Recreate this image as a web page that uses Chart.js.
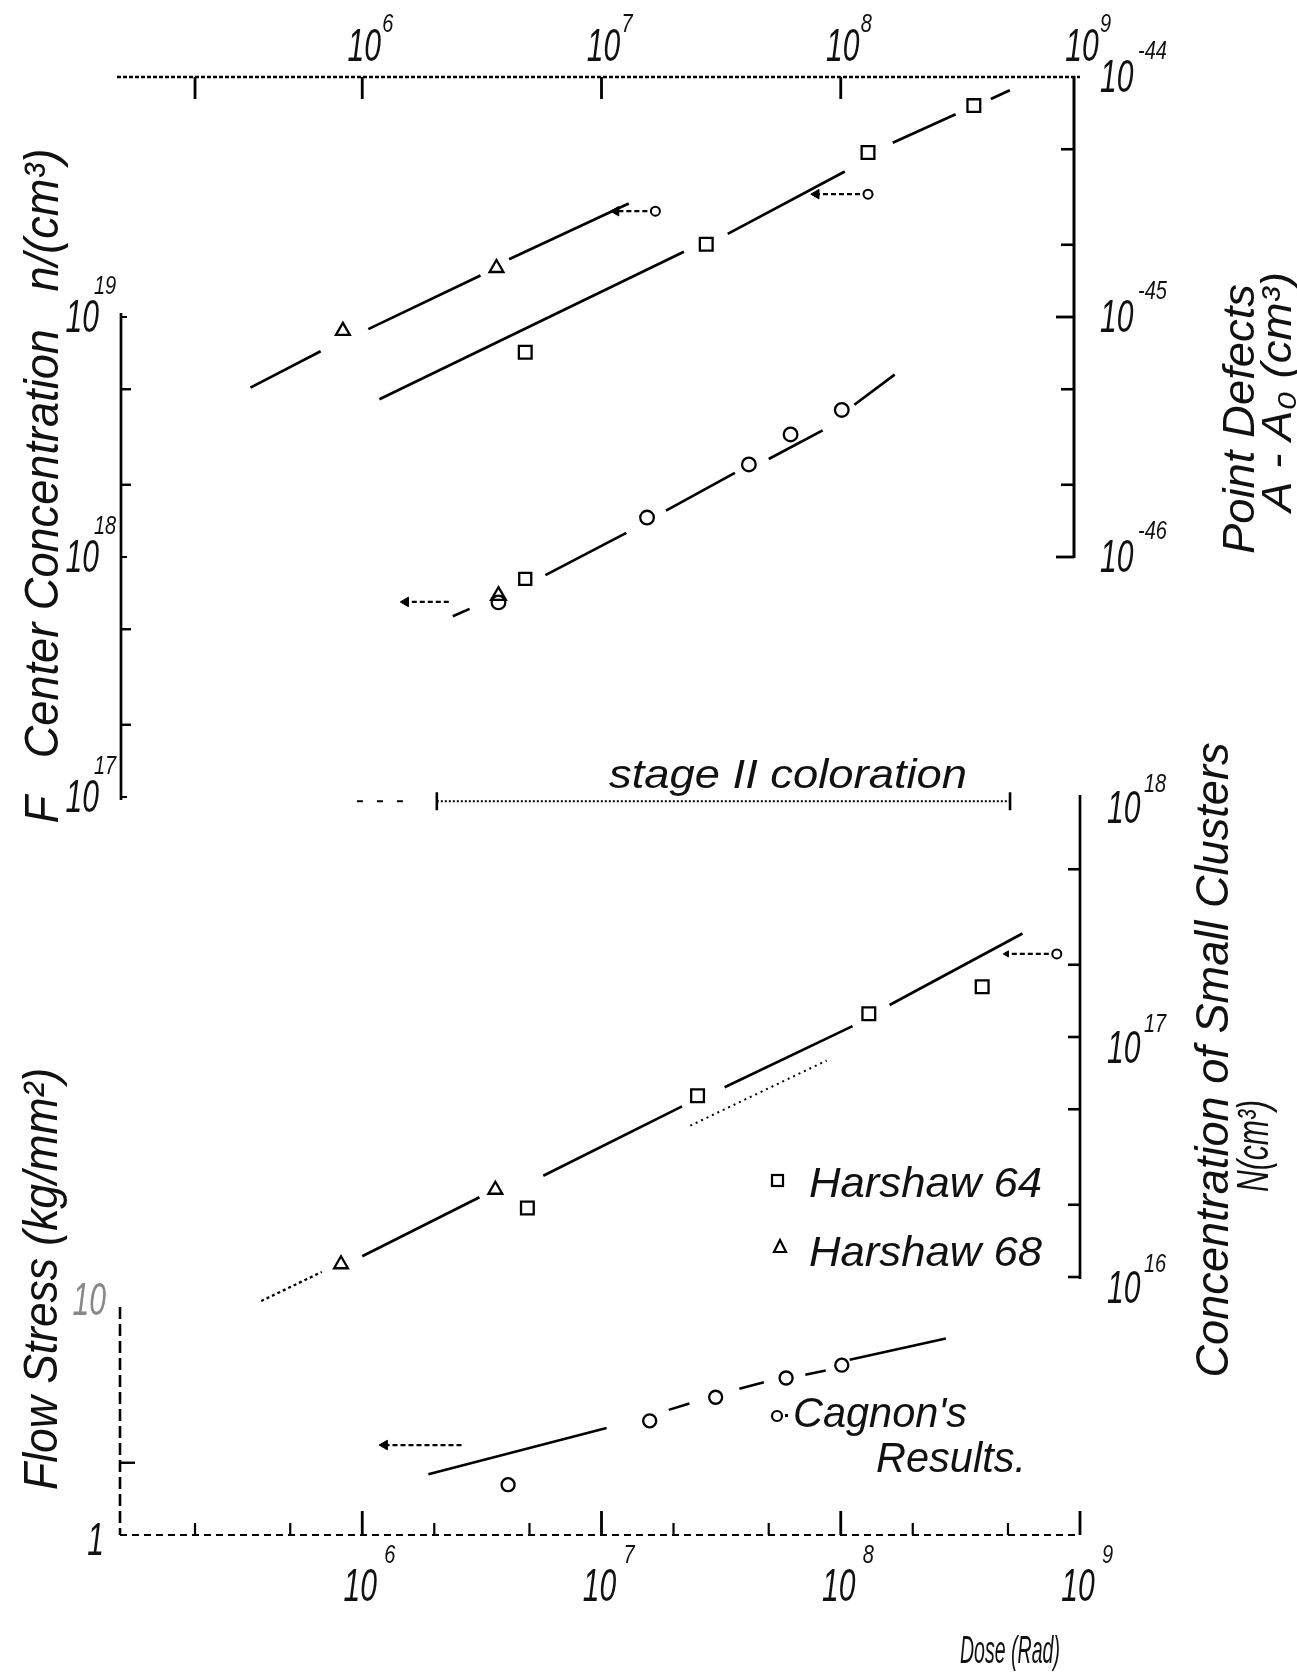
<!DOCTYPE html>
<html>
<head>
<meta charset="utf-8">
<script src="https://cdn.jsdelivr.net/npm/chart.js@4.4.1/dist/chart.umd.min.js"></script>
<style>
  html, body { margin: 0; padding: 0; background: #fff; }
  #wrap { width: 1297px; height: 1675px; position: relative; }
</style>
</head>
<body>
<div id="wrap"><canvas id="fig" width="1297" height="1675"></canvas></div>
<script>
// tick labels (powers of ten)
var doseDecades = [6, 7, 8, 9];
var topMinorTicks = [2e5];
var fCenterDecades = [17, 18, 19];
var pointDefectDecades = [-46, -45, -44];
var clusterDecades = [16, 17, 18];
var stressLabels = ['1', '10'];

// upper panel, F centre concentration n/(cm^3)
var h68TopDose = [8.3e5, 3.64e6];
var h68TopF = [8.75e18, 1.6e19];
var h68TopFitDose = [3.41e5, 6.7e5, null, 1.06e6, 3.12e6, null, 4.11e6, 1.30e7];
var h68TopFitF = [5.08e18, 7.2e18, null, 8.9e18, 1.49e19, null, 1.74e19, 2.97e19];

var h64TopDose = [4.8e6, 2.74e7, 1.30e8, 3.6e8];
var h64TopF = [7.13e18, 2.01e19, 4.85e19, 7.6e19];
var h64TopFitDose = [1.18e6, 2.21e7, null, 3.37e7, 1.04e8, null, 1.65e8, 3.02e8, null, 4.24e8, 5.09e8];
var h64TopFitF = [4.54e18, 1.87e19, null, 2.22e19, 4.04e19, null, 5.32e19, 7.0e19, null, 8.1e19, 8.8e19];

// upper panel, point defects A - A0 (cm^3)
var pdCircleDose = [3.71e6, 1.55e7, 4.13e7, 6.17e7, 1.01e8];
var pdCircle = [6.47e-47, 1.46e-46, 2.43e-46, 3.24e-46, 4.1e-46];
var pdSquareDose = [4.8e6];
var pdSquare = [8.1e-47];
var pdTriangleDose = [3.71e6];
var pdTriangle = [6.9e-47];
var pdFitDose = [2.39e6, 2.81e6, null, 5.83e6, 1.27e7, null, 1.86e7, 3.61e7, null, 5.0e7, 8.4e7, null, 1.14e8, 1.68e8];
var pdFit = [5.66e-47, 6.08e-47, null, 8.4e-47, 1.26e-46, null, 1.56e-46, 2.24e-46, null, 2.56e-46, 3.37e-46, null, 4.31e-46, 5.75e-46];

// lower panel, concentration of small clusters N(cm^3)
var h68LowDose = [8.15e5, 3.6e6];
var h68LowN = [1.13e16, 2.31e16];
var h64LowDose = [4.9e6, 2.52e7, 1.31e8, 3.9e8];
var h64LowN = [1.94e16, 5.69e16, 1.25e17, 1.62e17];
var clusterFitDose = [1e6, 3.09e6, null, 5.71e6, 2.17e7, null, 3.27e7, 1.12e8, null, 1.6e8, 5.75e8];
var clusterFitN = [1.22e16, 2.15e16, null, 2.64e16, 5.14e16, null, 6.18e16, 1.11e17, null, 1.36e17, 2.7e17];
var clusterStartDose = [3.78e5, 6.78e5];
var clusterStartN = [7.94e15, 1.05e16];
var clusterDotDose = [2.35e7, 8.73e7];
var clusterDotN = [4.27e16, 7.98e16];

// lower panel, Cagnon's results, flow stress (kg/mm^2)
var cagnonDose = [4.07e6, 1.59e7, 3.0e7, 5.91e7, 1.01e8];
var cagnonStress = [1.62, 2.99, 3.75, 4.51, 5.1];
var cagnonFitDose = [1.89e6, 1.05e7];
var cagnonFit = [1.79, 2.79];
var cagnonDashDose = [1.91e7, 2.33e7, null, 3.77e7, 4.77e7, null, 7.11e7, 8.65e7, null, 1.09e8, 2.75e8];
var cagnonDash = [3.32, 3.53, null, 4.07, 4.33, null, 4.65, 4.85, null, 5.37, 6.59];

// leader arrows pointing to the axis each curve belongs to
var arrowTail = [1.68e7, 1.30e8, 2.3e6, 8.0e8, 2.6e6];
var arrowHead = [1.15e7, 7.9e7, 1.52e6, 4.94e8, 1.24e6];
var arrowLevel = [2.76e19, 3.25e19, 6.5e17, 2.22e17, 2.37];
var arrowAxis = ['yF', 'yF', 'yF', 'yC', 'yS'];
var arrowTailCircle = [true, true, false, true, false];

// stage II coloration range
var stageIIDose = [2.05e6, 5.1e8];
var stageIILeadDose = [9.5e5, 1.67e6];
var stageIILevel = 9.6e16;

var BLACK = '#000';
var FONT = '"Liberation Sans", "DejaVu Sans", Arial, sans-serif';

function pts(xs, ys) {
  return xs.map(function(v, i) { return {x: v, y: ys[i]}; });
}

function markers(xs, ys, style, r, axis, fill) {
  return {
    data: pts(xs, ys), yAxisID: axis, showLine: false,
    pointStyle: style, pointRadius: r,
    pointBackgroundColor: fill || '#fff', pointBorderColor: BLACK, pointBorderWidth: 2.3,
    clip: false, order: 0
  };
}

function fitLine(xs, ys, axis, width, dash) {
  return {
    data: pts(xs, ys), yAxisID: axis, showLine: true, spanGaps: false,
    pointRadius: 0, borderColor: BLACK, borderWidth: width, borderDash: dash || [],
    clip: false, order: 2
  };
}

function arrowSet(i) {
  var lvl = arrowLevel[i];
  var ring = arrowTailCircle[i];
  return {
    data: [{x: arrowTail[i], y: lvl}, {x: arrowHead[i], y: lvl}],
    yAxisID: arrowAxis[i], showLine: true,
    borderColor: BLACK, borderWidth: 2.2, borderDash: [5, 3],
    pointStyle: ['circle', 'triangle'],
    pointRadius: [ring ? 4.5 : 0, i === 3 ? 3.5 : 5.5],
    pointRotation: arrowHead[i] > arrowTail[i] ? 90 : 270,
    pointBackgroundColor: ['#fff', BLACK], pointBorderColor: BLACK, pointBorderWidth: [2, 1],
    clip: false, order: 1
  };
}

var datasets = [
  markers(h64TopDose, h64TopF, 'rect', 9, 'yF'),
  markers(h68TopDose, h68TopF, 'triangle', 8, 'yF'),
  markers(pdTriangleDose, pdTriangle, 'triangle', 8.5, 'yP', 'rgba(0,0,0,0)'),
  markers(pdCircleDose, pdCircle, 'circle', 6.8, 'yP'),
  markers(pdSquareDose, pdSquare, 'rect', 8.5, 'yP'),
  markers(h68LowDose, h68LowN, 'triangle', 8, 'yC'),
  markers(h64LowDose, h64LowN, 'rect', 9, 'yC'),
  markers(cagnonDose, cagnonStress, 'circle', 6.5, 'yS'),
  fitLine(h68TopFitDose, h68TopFitF, 'yF', 2.7),
  fitLine(h64TopFitDose, h64TopFitF, 'yF', 2.7),
  fitLine(pdFitDose, pdFit, 'yP', 2.7),
  fitLine(clusterFitDose, clusterFitN, 'yC', 2.7),
  fitLine(clusterStartDose, clusterStartN, 'yC', 2.3, [3, 3]),
  fitLine(clusterDotDose, clusterDotN, 'yC', 2, [2, 4]),
  fitLine(cagnonFitDose, cagnonFit, 'yS', 2.5),
  fitLine(cagnonDashDose, cagnonDash, 'yS', 2.5),
  fitLine(stageIILeadDose, [stageIILevel, stageIILevel], 'yF', 2.2, [6, 14]),
  {
    data: pts(stageIIDose, [stageIILevel, stageIILevel]), yAxisID: 'yF', showLine: true,
    borderColor: BLACK, borderWidth: 1.8, borderDash: [2, 2],
    pointStyle: 'line', pointRotation: 90, pointRadius: 9,
    pointBorderColor: BLACK, pointBorderWidth: 2.6, clip: false, order: 1
  }
];
for (var i = 0; i < arrowTail.length; i++) datasets.push(arrowSet(i));

// ---- drawing helpers for the hand-drawn axes and lettering ----
function stroke(ctx, x1, y1, x2, y2, w, dash) {
  ctx.save();
  ctx.strokeStyle = BLACK;
  ctx.lineWidth = w;
  ctx.setLineDash(dash || []);
  ctx.beginPath();
  ctx.moveTo(x1, y1);
  ctx.lineTo(x2, y2);
  ctx.stroke();
  ctx.restore();
}

function txt(ctx, s, x, y, o) {
  o = o || {};
  ctx.save();
  ctx.font = 'italic ' + (o.size || 40) + 'px ' + FONT;
  ctx.fillStyle = o.color || '#111';
  ctx.textBaseline = 'alphabetic';
  ctx.translate(x, y);
  if (o.rot) ctx.rotate(o.rot);
  var w = ctx.measureText(s).width;
  var sx = o.w ? o.w / w : (o.sx || 1);
  ctx.scale(sx, 1);
  var dx = o.align === 'center' ? -w / 2 : o.align === 'right' ? -w : 0;
  ctx.fillText(s, dx, 0);
  ctx.restore();
  return w * sx;
}

function minorValues(e0, e1) {
  var out = [];
  for (var e = e0; e < e1; e++) { out.push(2 * Math.pow(10, e)); out.push(5 * Math.pow(10, e)); }
  return out;
}

var axesPlugin = {
  id: 'handAxes',
  afterDraw: function(chart) {
    var ctx = chart.ctx, a = chart.chartArea, s = chart.scales;
    var X = function(v) { return s.x.getPixelForValue(v); };
    var LBL = {size: 47, sx: 0.64};
    var EXP = {size: 25, sx: 0.8};
    var lbl = function(align) { return {size: LBL.size, sx: LBL.sx, align: align}; };

    // top dose axis
    var yT = a.top;
    stroke(ctx, X(1e5) - 6, yT, X(1e9), yT, 2.6, [4, 2]);
    topMinorTicks.concat([1e6, 1e7, 1e8]).forEach(function(v) {
      stroke(ctx, X(v), yT, X(v), yT + 22, 2.8);
    });
    doseDecades.forEach(function(e) {
      var px = X(Math.pow(10, e));
      txt(ctx, '10', px + 2, yT - 16, lbl('center'));
      txt(ctx, String(e), px + 20, yT - 45, EXP);
    });

    // upper right axis: point defects
    var xR = X(1e9) - 6, P = function(v) { return s.yP.getPixelForValue(v); };
    stroke(ctx, xR, P(1e-44) - 1, xR, P(1e-46) + 1, 3);
    [1e-45, 1e-46].forEach(function(v) { stroke(ctx, xR, P(v), xR - 18, P(v), 2.8); });
    minorValues(-46, -44).forEach(function(v) { stroke(ctx, xR, P(v), xR - 13, P(v), 2.6); });
    pointDefectDecades.forEach(function(e) {
      var py = P(Math.pow(10, e));
      txt(ctx, '10', xR + 26, py + 15, lbl());
      txt(ctx, String(e), xR + 64, py - 18, EXP);
    });

    // upper left axis: F centres
    var xL = X(1e5) - 2, F = function(v) { return s.yF.getPixelForValue(v); };
    stroke(ctx, xL, F(1e19) - 4, xL, F(1e17) + 3, 2.7);
    minorValues(17, 19).forEach(function(v) { stroke(ctx, xL, F(v), xL + 10, F(v), 2.4); });
    [1e17, 1e18, 1e19].forEach(function(v) { stroke(ctx, xL, F(v), xL + 6, F(v), 2); });
    fCenterDecades.forEach(function(e) {
      var py = F(Math.pow(10, e));
      txt(ctx, '10', xL - 22, py + 15, lbl('right'));
      txt(ctx, String(e), xL - 27, py - 23, EXP);
    });

    // lower right axis: small clusters
    var xR2 = X(1e9), C = function(v) { return s.yC.getPixelForValue(v); };
    stroke(ctx, xR2, C(1e18) - 2, xR2, C(1e16) + 2, 2.7);
    minorValues(16, 18).concat([1e17, 1e16]).forEach(function(v) {
      stroke(ctx, xR2, C(v), xR2 - 12, C(v), 2.6);
    });
    clusterDecades.forEach(function(e) {
      var py = C(Math.pow(10, e));
      txt(ctx, '10', xR2 + 27, py + 26, lbl());
      txt(ctx, String(e), xR2 + 64, py - 5, EXP);
    });

    // lower left axis: flow stress
    var xL2 = X(1e5) - 3, S = function(v) { return s.yS.getPixelForValue(v); };
    stroke(ctx, xL2, S(10) + 12, xL2, S(1), 2.6, [12, 5]);
    stroke(ctx, xL2, S(2), xL2 + 15, S(2), 2.4);
    txt(ctx, stressLabels[0], xL2 - 16, S(1) + 20, lbl('right'));
    txt(ctx, stressLabels[1], xL2 - 14, S(10) + 20, {size: LBL.size, sx: LBL.sx, align: 'right', color: '#888'});

    // bottom dose axis
    var yB = S(1);
    stroke(ctx, X(1e5) - 3, yB, X(1e9), yB, 2.2, [7, 5]);
    doseDecades.forEach(function(e) {
      var px = X(Math.pow(10, e));
      stroke(ctx, px, yB, px, yB - 24, 2.8);
      txt(ctx, '10', px - 2, yB + 66, lbl('center'));
      txt(ctx, String(e), px + 22, yB + 28, EXP);
    });
    minorValues(5, 9).forEach(function(v) { stroke(ctx, X(v), yB, X(v), yB - 12, 2.2); });

    // axis titles
    var up = -Math.PI / 2;
    txt(ctx, 'F   Center Concentration   n/(cm³)', 58, 486, {size: 49, rot: up, w: 675, align: 'center'});
    txt(ctx, 'Flow Stress (kg/mm²)', 57, 1279, {size: 48, rot: up, w: 422, align: 'center'});
    txt(ctx, 'Point Defects', 1254, 419, {size: 45, rot: up, w: 270, align: 'center'});
    txt(ctx, 'A - A₀ (cm³)', 1291, 392, {size: 42, rot: up, w: 240, align: 'center'});
    txt(ctx, 'Concentration of Small Clusters', 1228, 1060, {size: 47, rot: up, w: 635, align: 'center'});
    txt(ctx, 'N(cm³)', 1268, 1146, {size: 44, rot: up, w: 92, align: 'center'});
    txt(ctx, 'Dose (Rad)', 1010, 1663, {size: 38, w: 100, align: 'center'});

    // annotations and key
    txt(ctx, 'stage II coloration', 788, 788, {size: 40, w: 358, align: 'center'});
    ctx.save();
    ctx.strokeStyle = BLACK;
    ctx.lineWidth = 2.2;
    ctx.strokeRect(772, 1175, 11, 11);
    ctx.beginPath();
    ctx.moveTo(780, 1240); ctx.lineTo(786, 1252); ctx.lineTo(774, 1252); ctx.closePath();
    ctx.stroke();
    ctx.beginPath();
    ctx.arc(777, 1416, 5, 0, Math.PI * 2);
    ctx.stroke();
    ctx.fillStyle = BLACK;
    ctx.fillRect(785, 1414, 3, 3);
    ctx.restore();
    txt(ctx, 'Harshaw 64', 809, 1197, {size: 42, w: 233});
    txt(ctx, 'Harshaw 68', 809, 1266, {size: 42, w: 233});
    txt(ctx, "Cagnon's", 793, 1427, {size: 42, w: 174});
    txt(ctx, 'Results.', 876, 1472, {size: 42, w: 150});
  }
};

var logY = function(min, max) {
  return {type: 'logarithmic', axis: 'y', min: min, max: max, display: false};
};

new Chart(document.getElementById('fig'), {
  type: 'scatter',
  data: {datasets: datasets},
  options: {
    responsive: false,
    animation: false,
    devicePixelRatio: 1,
    events: [],
    layout: {padding: {left: 123, right: 217, top: 77, bottom: 140}},
    plugins: {legend: {display: false}, tooltip: {enabled: false}},
    scales: {
      x: {type: 'logarithmic', min: 1e5, max: 1e9, display: false},
      yF: logY(Math.pow(10, 13.925), 1e20),
      yP: logY(Math.pow(10, -50.075), 1e-44),
      yC: logY(Math.pow(10, 14.925), 1e21),
      yS: logY(1, Math.pow(10, 6.075))
    }
  },
  plugins: [axesPlugin]
});
</script>
</body>
</html>
